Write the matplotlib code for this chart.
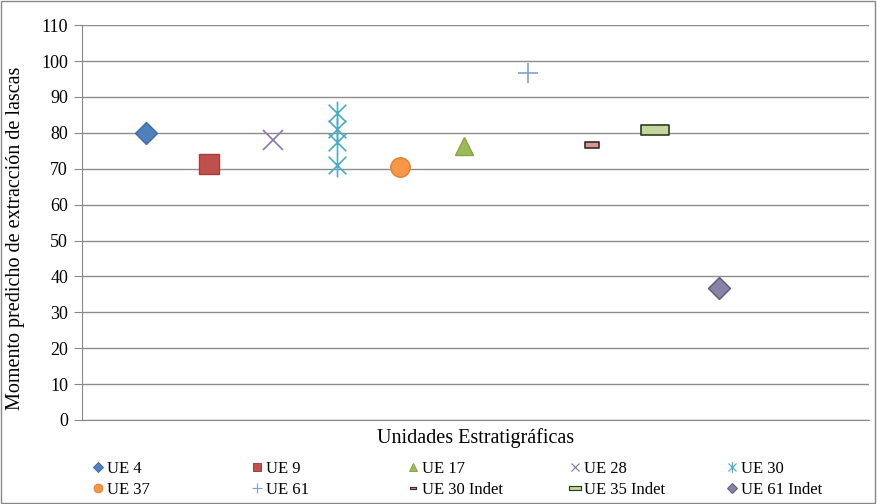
import matplotlib
matplotlib.use('Agg')
import matplotlib.pyplot as plt
from matplotlib.path import Path
from matplotlib.lines import Line2D

plt.rcParams['font.family'] = ['Liberation Serif', 'DejaVu Serif']

# series names, x positions and values
names = ['UE 4', 'UE 9', 'UE 28', 'UE 30', 'UE 37', 'UE 17', 'UE 61',
         'UE 30 Indet', 'UE 35 Indet', 'UE 61 Indet']
xpos = [1, 2, 3, 4, 5, 6, 7, 8, 9, 10]
vals = [[80], [71.3], [78], [85.5, 81, 77.5, 71], [70.5], [76.3], [96.7],
        [76.6], [80.8], [36.8]]
yticks = [0, 10, 20, 30, 40, 50, 60, 70, 80, 90, 100, 110]

rect_s = Path([(-1, -0.45), (1, -0.45), (1, 0.45), (-1, 0.45), (-1, -0.45)],
              [1, 2, 2, 2, 79])
rect_w = Path([(-1, -0.33), (1, -0.33), (1, 0.33), (-1, 0.33), (-1, -0.33)],
              [1, 2, 2, 2, 79])
star = Path([(0, -1), (0, 1), (-0.75, -0.75), (0.75, 0.75), (-0.75, 0.75), (0.75, -0.75)],
            [1, 2, 1, 2, 1, 2])

styles = {
    'UE 4': dict(marker='D', ms=11, color='#4F81BD', mec='#3E6BA6'),
    'UE 9': dict(marker='s', ms=14, color='#C0504D', mec='#A53E3B'),
    'UE 28': dict(marker='x', ms=14, color='#8A76B0', mew=1.2),
    'UE 30': dict(marker=star, ms=17, color='#4BACC6', mew=1.2),
    'UE 37': dict(marker='o', ms=14, color='#F79646', mec='#E07F2F'),
    'UE 17': dict(marker='^', ms=13, color='#9BBB59', mec='#86A545'),
    'UE 61': dict(marker='+', ms=15, color='#7FA2D6', mew=1.2),
    'UE 30 Indet': dict(marker=rect_s, ms=10, color='#D99694', mec='#3A2A2A', mew=1.2),
    'UE 35 Indet': dict(marker=rect_w, ms=20, color='#C3D69B', mec='#2F3A22', mew=1.2),
    'UE 61 Indet': dict(marker='D', ms=11, color='#8C82A8', mec='#5E567A'),
}

fig = plt.figure(figsize=(8.77, 5.04), dpi=100)
ax = fig.add_axes([0.0935, 0.1667, 0.897, 0.7833])

handles = {}
for n, x, v in zip(names, xpos, vals):
    st = styles[n]
    ax.plot([x] * len(v), v, linestyle='none', marker=st['marker'], markersize=st['ms'],
            color=st['color'], markeredgecolor=st.get('mec', st['color']),
            markeredgewidth=st.get('mew', 1.0), zorder=3)
    handles[n] = Line2D([], [], linestyle='none', marker=st['marker'],
                        markersize=st['ms'] * 0.45, color=st['color'],
                        markeredgecolor=st.get('mec', st['color']),
                        markeredgewidth=st.get('mew', 1.0) * 0.7)

ax.set_xlim(0, 12.35)
ax.set_ylim(0, 110)
ax.set_yticks(yticks)
ax.set_xticks([])
ax.tick_params(axis='y', labelsize=13, length=6, color='#888888', pad=4)
ax.yaxis.grid(True, color='#8c8c8c', linewidth=1)
ax.set_axisbelow(True)
for s in ['top', 'right']:
    ax.spines[s].set_visible(False)
ax.spines['left'].set_color('#888888')
ax.spines['bottom'].set_color('#888888')
ax.set_ylabel('Momento predicho de extracción de lascas', fontsize=14.5)
ax.yaxis.set_label_coords(-0.072, 0.46)
ax.set_xlabel('Unidades Estratigráficas', fontsize=14.5, labelpad=6)

# legend: 5 evenly spaced columns, two rows
cols = [['UE 4', 'UE 37'], ['UE 9', 'UE 61'], ['UE 17', 'UE 30 Indet'],
        ['UE 28', 'UE 35 Indet'], ['UE 30', 'UE 61 Indet']]
col_x = [0.104, 0.285, 0.463, 0.648, 0.827]
for cx, col in zip(col_x, cols):
    lg = fig.legend([handles[n] for n in col], col, loc='center left',
                    bbox_to_anchor=(cx, 0.049), frameon=False, fontsize=12,
                    handlelength=0.8, handletextpad=0.15, labelspacing=0.3,
                    borderpad=0, borderaxespad=0)

fig.patches.append(plt.Rectangle((0.001, 0.001), 0.997, 0.997, transform=fig.transFigure,
                                 fill=False, edgecolor='#888888', linewidth=1))

fig.savefig('out.png', dpi=100)
